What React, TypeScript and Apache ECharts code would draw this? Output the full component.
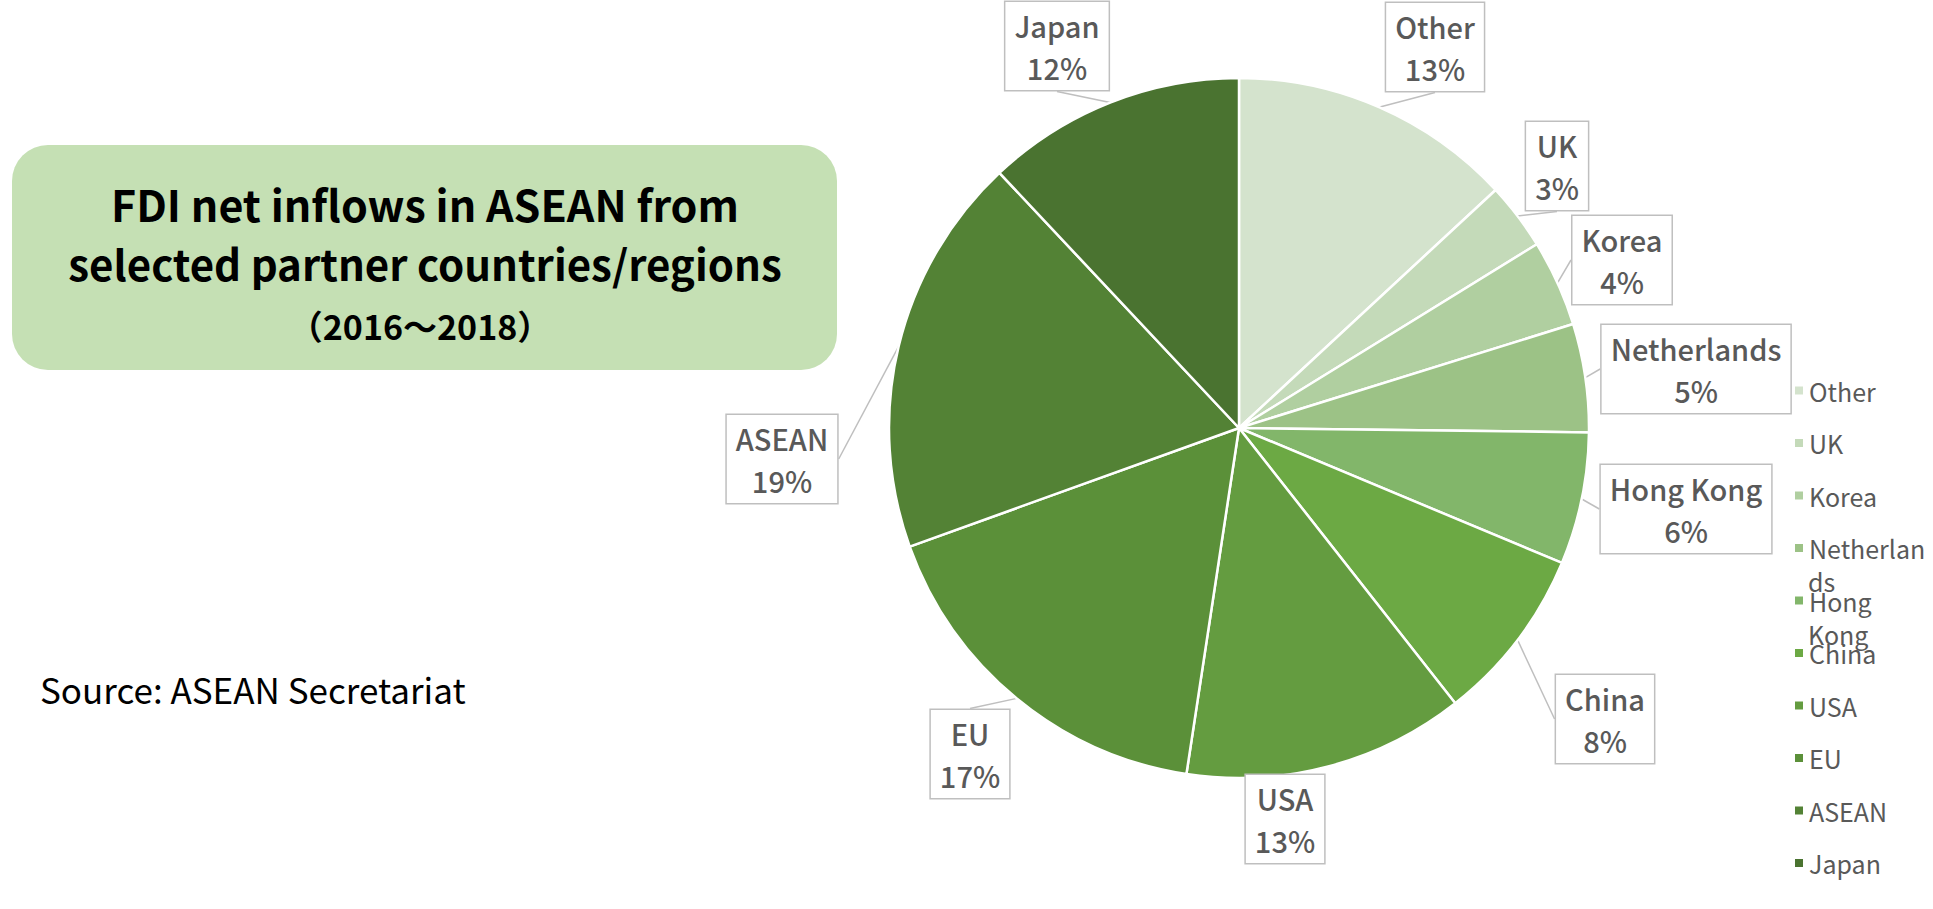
import React, { useEffect, useRef } from "react";
import * as echarts from "echarts";

// ---- data ----
const categories = ["Other", "UK", "Korea", "Netherlands", "Hong Kong", "China", "USA", "EU", "ASEAN", "Japan"];
const shares = [13.1, 3.1, 4.0, 5.0, 6.1, 8.1, 13.0, 17.1, 18.5, 12.0];
const sliceColors = ["#d4e3cd", "#c4dab9", "#b0cfa0", "#9cc286", "#82b66a", "#6ca944", "#649c40", "#5b9039", "#538235", "#4a7330"];
const titleLines = ["FDI net inflows in ASEAN from", "selected partner countries/regions", "（2016～2018）"];
const sourceText = "Source: ASEAN Secretariat";
// legend text as it wraps in the reference
const legendFirstLine: Record<string, string> = { Netherlands: "Netherlan", "Hong Kong": "Hong" };
const legendSecondLine: Record<string, string> = { Netherlands: "ds", "Hong Kong": "Kong" };

// ---- layout (not data) ----
const W = 1933;
const H = 909;
const PIE_CENTER = [1239, 428];
const PIE_RADIUS = 350;
const LABEL_CENTERS = [
  [1435, 47], [1557, 166], [1622, 260], [1696, 369], [1686, 509],
  [1605, 719], [1285, 819], [970, 754], [782, 459], [1057, 46],
];
const LEGEND_LEFT = 1793;
const LEGEND_TOP = 378;
const LEGEND_STEP = 52.5;
const LEGEND_FONT = 25;
const TEXT_GREY = "#595959";
const FONT = "'Noto Sans CJK JP', 'Noto Sans', sans-serif";

export default function App() {
  const ref = useRef<HTMLDivElement>(null);

  useEffect(() => {
    if (!ref.current) return;
    const chart = echarts.init(ref.current, undefined, { renderer: "svg" });

    const wrapTexts: any[] = [];
    categories.forEach((c, i) => {
      if (legendSecondLine[c]) {
        wrapTexts.push({
          type: "text",
          x: LEGEND_LEFT + 15,
          y: LEGEND_TOP + LEGEND_FONT / 2 + i * LEGEND_STEP + 33,
          style: {
            text: legendSecondLine[c],
            fill: TEXT_GREY,
            font: `${LEGEND_FONT}px ${FONT}`,
            verticalAlign: "middle",
            align: "left",
          },
          silent: true,
        });
      }
    });

    const option: any = {
      animation: false,
      backgroundColor: "#ffffff",
      legend: {
        orient: "vertical",
        left: LEGEND_LEFT,
        top: LEGEND_TOP,
        padding: 0,
        itemWidth: 10,
        itemHeight: 10,
        itemGap: LEGEND_STEP - LEGEND_FONT,
        icon: "rect",
        data: categories,
        formatter: (name: string) => legendFirstLine[name] || name,
        textStyle: {
          color: TEXT_GREY,
          fontSize: LEGEND_FONT,
          lineHeight: LEGEND_FONT,
          fontFamily: FONT,
          padding: [0, 0, 0, 0],
        },
      },
      graphic: [
        {
          type: "rect",
          shape: { x: 12, y: 145, width: 825, height: 225, r: 36 },
          style: { fill: "#c5e0b4" },
          silent: true,
        },
        {
          type: "text",
          x: 425,
          y: 203,
          style: { text: titleLines[0], fill: "#000", font: `bold 43px ${FONT}`, align: "center", verticalAlign: "middle" },
        },
        {
          type: "text",
          x: 425,
          y: 262,
          style: { text: titleLines[1], fill: "#000", font: `bold 42px ${FONT}`, align: "center", verticalAlign: "middle" },
        },
        {
          type: "text",
          x: 420,
          y: 325,
          style: { text: titleLines[2], fill: "#000", font: `bold 34px ${FONT}`, align: "center", verticalAlign: "middle" },
        },
        {
          type: "text",
          x: 40,
          y: 688,
          style: { text: sourceText, fill: "#000", font: `35px ${FONT}`, align: "left", verticalAlign: "middle" },
        },
        ...wrapTexts,
      ],
      series: [
        {
          type: "pie",
          center: PIE_CENTER,
          radius: PIE_RADIUS,
          startAngle: 90,
          clockwise: true,
          avoidLabelOverlap: false,
          percentPrecision: 0,
          itemStyle: { borderColor: "#ffffff", borderWidth: 2.5 },
          label: {
            show: true,
            position: "outside",
            formatter: "{b}\n{d}%",
            color: TEXT_GREY,
            fontSize: 29,
            fontWeight: 500,
            lineHeight: 42,
            fontFamily: FONT,
            align: "center",
            backgroundColor: "#ffffff",
            borderColor: "#bfbfbf",
            borderWidth: 1.5,
            padding: [2, 9, 2, 9],
          },
          labelLine: {
            show: true,
            length: 10,
            length2: 0,
            lineStyle: { color: "#bfbfbf", width: 1.5 },
          },
          labelLayout: (params: any) => {
            const p = LABEL_CENTERS[params.dataIndex];
            return { x: p[0], y: p[1], align: "center", verticalAlign: "middle" };
          },
          emphasis: { disabled: true },
          data: categories.map((c, i) => ({
            name: c,
            value: shares[i],
            itemStyle: { color: sliceColors[i] },
          })),
        },
      ],
    };

    chart.setOption(option);
    return () => chart.dispose();
  }, []);

  return (
    <div
      ref={ref}
      style={{ position: "fixed", left: 0, top: 0, width: W, height: H }}
    />
  );
}
